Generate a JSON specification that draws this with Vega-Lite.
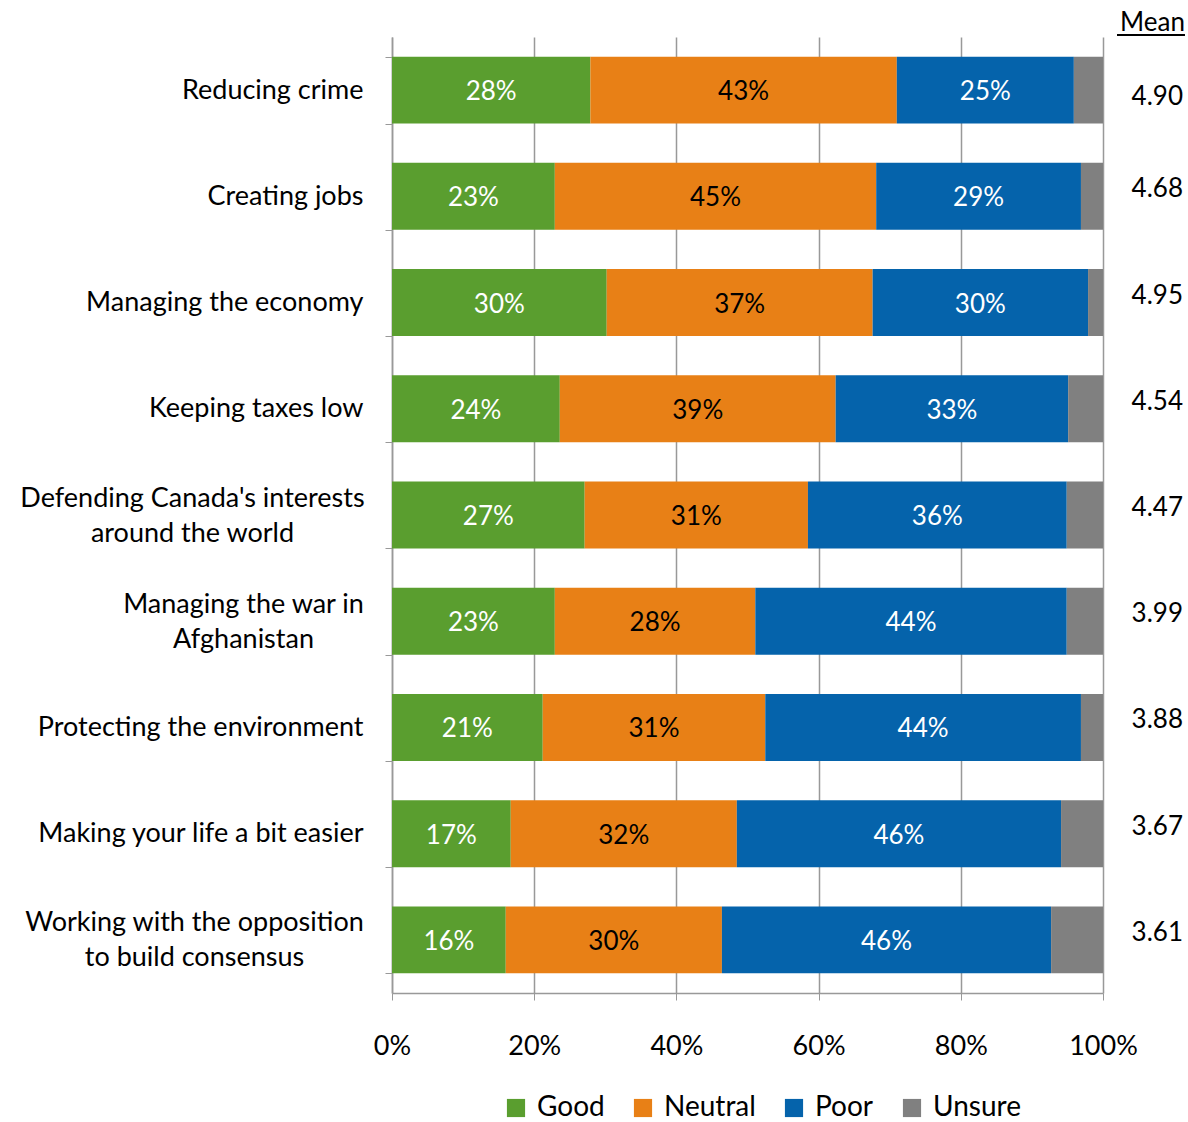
{
  "$schema": "https://vega.github.io/schema/vega-lite/v6.json",
  "autosize": {"type": "none"},
  "padding": {"left": 392, "top": 37, "right": 85, "bottom": 129},
  "width": 711,
  "height": 956,
  "config": {
    "view": {"stroke": null},
    "font": "Lato",
    "axis": {"labelFont": "Lato", "labelColor": "#000000"},
    "legend": {"labelFont": "Lato"}
  },
  "data": {"values": [
      {"category": "Reducing crime", "response": "Good", "rank": 1, "value": 0.279},
      {"category": "Reducing crime", "response": "Neutral", "rank": 2, "value": 0.431},
      {"category": "Reducing crime", "response": "Poor", "rank": 3, "value": 0.249},
      {"category": "Reducing crime", "response": "Unsure", "rank": 4, "value": 0.041},
      {"category": "Creating jobs", "response": "Good", "rank": 1, "value": 0.229},
      {"category": "Creating jobs", "response": "Neutral", "rank": 2, "value": 0.452},
      {"category": "Creating jobs", "response": "Poor", "rank": 3, "value": 0.288},
      {"category": "Creating jobs", "response": "Unsure", "rank": 4, "value": 0.031},
      {"category": "Managing the economy", "response": "Good", "rank": 1, "value": 0.302},
      {"category": "Managing the economy", "response": "Neutral", "rank": 2, "value": 0.374},
      {"category": "Managing the economy", "response": "Poor", "rank": 3, "value": 0.303},
      {"category": "Managing the economy", "response": "Unsure", "rank": 4, "value": 0.021},
      {"category": "Keeping taxes low", "response": "Good", "rank": 1, "value": 0.236},
      {"category": "Keeping taxes low", "response": "Neutral", "rank": 2, "value": 0.388},
      {"category": "Keeping taxes low", "response": "Poor", "rank": 3, "value": 0.327},
      {"category": "Keeping taxes low", "response": "Unsure", "rank": 4, "value": 0.049},
      {"category": "Defending Canada's interests|around the world", "response": "Good", "rank": 1, "value": 0.271},
      {"category": "Defending Canada's interests|around the world", "response": "Neutral", "rank": 2, "value": 0.314},
      {"category": "Defending Canada's interests|around the world", "response": "Poor", "rank": 3, "value": 0.364},
      {"category": "Defending Canada's interests|around the world", "response": "Unsure", "rank": 4, "value": 0.051},
      {"category": "Managing the war in|Afghanistan", "response": "Good", "rank": 1, "value": 0.229},
      {"category": "Managing the war in|Afghanistan", "response": "Neutral", "rank": 2, "value": 0.282},
      {"category": "Managing the war in|Afghanistan", "response": "Poor", "rank": 3, "value": 0.438},
      {"category": "Managing the war in|Afghanistan", "response": "Unsure", "rank": 4, "value": 0.051},
      {"category": "Protecting the environment", "response": "Good", "rank": 1, "value": 0.212},
      {"category": "Protecting the environment", "response": "Neutral", "rank": 2, "value": 0.313},
      {"category": "Protecting the environment", "response": "Poor", "rank": 3, "value": 0.444},
      {"category": "Protecting the environment", "response": "Unsure", "rank": 4, "value": 0.031},
      {"category": "Making your life a bit easier", "response": "Good", "rank": 1, "value": 0.167},
      {"category": "Making your life a bit easier", "response": "Neutral", "rank": 2, "value": 0.318},
      {"category": "Making your life a bit easier", "response": "Poor", "rank": 3, "value": 0.456},
      {"category": "Making your life a bit easier", "response": "Unsure", "rank": 4, "value": 0.059},
      {"category": "Working with the opposition|to build consensus", "response": "Good", "rank": 1, "value": 0.160},
      {"category": "Working with the opposition|to build consensus", "response": "Neutral", "rank": 2, "value": 0.304},
      {"category": "Working with the opposition|to build consensus", "response": "Poor", "rank": 3, "value": 0.463},
      {"category": "Working with the opposition|to build consensus", "response": "Unsure", "rank": 4, "value": 0.073}
  ]},
  "encoding": {
    "y": {
      "field": "category",
      "type": "nominal",
      "sort": null,
      "scale": {
        "domain": [
          "Reducing crime",
          "Creating jobs",
          "Managing the economy",
          "Keeping taxes low",
          "Defending Canada's interests|around the world",
          "Managing the war in|Afghanistan",
          "Protecting the environment",
          "Making your life a bit easier",
          "Working with the opposition|to build consensus"
        ],
        "paddingInner": 0.37,
        "paddingOuter": 0.185
      },
      "axis": {
        "title": null,
        "labelFontSize": 27,
        "labelLineHeight": 35,
        "labelLimit": 400,
        "labelOffset": {"condition": {"test": "datum.value && indexof(datum.value, '|') >= 0", "value": -17}, "value": 0},
        "labelAlign": {"condition": {"test": "datum.value && indexof(datum.value, '|') >= 0", "value": "center"}, "value": "right"},
        "labelPadding": {
          "condition": [
            {"test": "datum.value && indexof(datum.value, 'Defending') == 0", "value": 193},
            {"test": "datum.value && indexof(datum.value, 'Managing the war') == 0", "value": 142},
            {"test": "datum.value && indexof(datum.value, 'Working') == 0", "value": 191}
          ],
          "value": 22
        },
        "tickBand": "extent",
        "tickSize": 7,
        "tickColor": "#999999",
        "domainColor": "#999999",
        "domainWidth": 1.5,
        "grid": false,
        "labelExpr": "!datum.value ? '' : split(datum.value, '|')"
      }
    }
  },
  "layer": [
    {
      "mark": {"type": "bar"},
      "encoding": {
        "x": {
          "field": "value",
          "type": "quantitative",
          "stack": "zero",
          "scale": {"domain": [0, 1], "nice": false},
          "axis": {
            "title": null,
            "format": ".0%",
            "values": [0, 0.2, 0.4, 0.6, 0.8, 1],
            "labelFontSize": 27,
            "labelPadding": 33,
            "tickSize": 7,
            "tickColor": "#999999",
            "domainColor": "#999999",
            "domainWidth": 1.5,
            "grid": true,
            "gridColor": "#999999",
            "gridWidth": 1.5,
            "labelFlush": false
          }
        },
        "color": {
          "field": "response",
          "type": "nominal",
          "scale": {
            "domain": ["Good", "Neutral", "Poor", "Unsure"],
            "range": ["#5A9E2F", "#E88016", "#0563AB", "#808080"]
          },
          "legend": {
            "title": null,
            "orient": "none",
            "legendX": 110,
            "legendY": 1057,
            "direction": "horizontal",
            "symbolType": "square",
            "symbolSize": 330,
            "symbolStrokeWidth": 0,
            "labelFontSize": 28,
            "columnPadding": 24,
            "labelOffset": 7
          }
        },
        "order": {"field": "rank", "type": "quantitative"}
      }
    },
    {
      "transform": [
        {"stack": "value", "groupby": ["category"], "sort": [{"field": "rank"}], "as": ["v0", "v1"]},
        {"filter": "datum.response != 'Unsure'"},
        {"calculate": "(datum.v0 + datum.v1) / 2", "as": "mid"}
      ],
      "mark": {"type": "text", "fontSize": 26, "baseline": "middle", "align": "center", "dy": 2},
      "encoding": {
        "x": {"field": "mid", "type": "quantitative"},
        "text": {"field": "value", "type": "quantitative", "format": ".0%"},
        "color": {
          "condition": {"test": "datum.response == 'Neutral'", "value": "#000000"},
          "value": "#ffffff"
        }
      }
    },
    {
      "data": {"values": [
        {"category": "Reducing crime", "mean": "4.90"},
        {"category": "Creating jobs", "mean": "4.68"},
        {"category": "Managing the economy", "mean": "4.95"},
        {"category": "Keeping taxes low", "mean": "4.54"},
        {"category": "Defending Canada's interests|around the world", "mean": "4.47"},
        {"category": "Managing the war in|Afghanistan", "mean": "3.99"},
        {"category": "Protecting the environment", "mean": "3.88"},
        {"category": "Making your life a bit easier", "mean": "3.67"},
        {"category": "Working with the opposition|to build consensus", "mean": "3.61"}
      ]},
      "layer": [
        {
          "transform": [{"filter": "datum.category == 'Reducing crime'"}],
          "mark": {"type": "text", "fontSize": 26, "align": "right", "baseline": "middle", "yOffset": 7},
          "encoding": {
            "x": {"datum": 1.1125, "type": "quantitative"},
            "text": {"field": "mean"}
          }
        },
        {
          "transform": [{"filter": "datum.category != 'Reducing crime'"}],
          "mark": {"type": "text", "fontSize": 26, "align": "right", "baseline": "middle", "yOffset": -7},
          "encoding": {
            "x": {"datum": 1.1125, "type": "quantitative"},
            "text": {"field": "mean"}
          }
        }
      ]
    },
    {
      "data": {"values": [{"category": "Reducing crime", "label": "Mean"}]},
      "mark": {"type": "text", "fontSize": 26, "align": "right", "baseline": "middle", "yOffset": -67},
      "encoding": {
        "x": {"datum": 1.1153, "type": "quantitative"},
        "text": {"field": "label"}
      }
    },
    {
      "data": {"values": [{"category": "Reducing crime", "label": "Mean"}]},
      "mark": {"type": "rule", "color": "#000000", "strokeWidth": 2, "yOffset": -55},
      "encoding": {
        "x": {"datum": 1.0197, "type": "quantitative"},
        "x2": {"datum": 1.1153}
      }
    }
  ]
}
